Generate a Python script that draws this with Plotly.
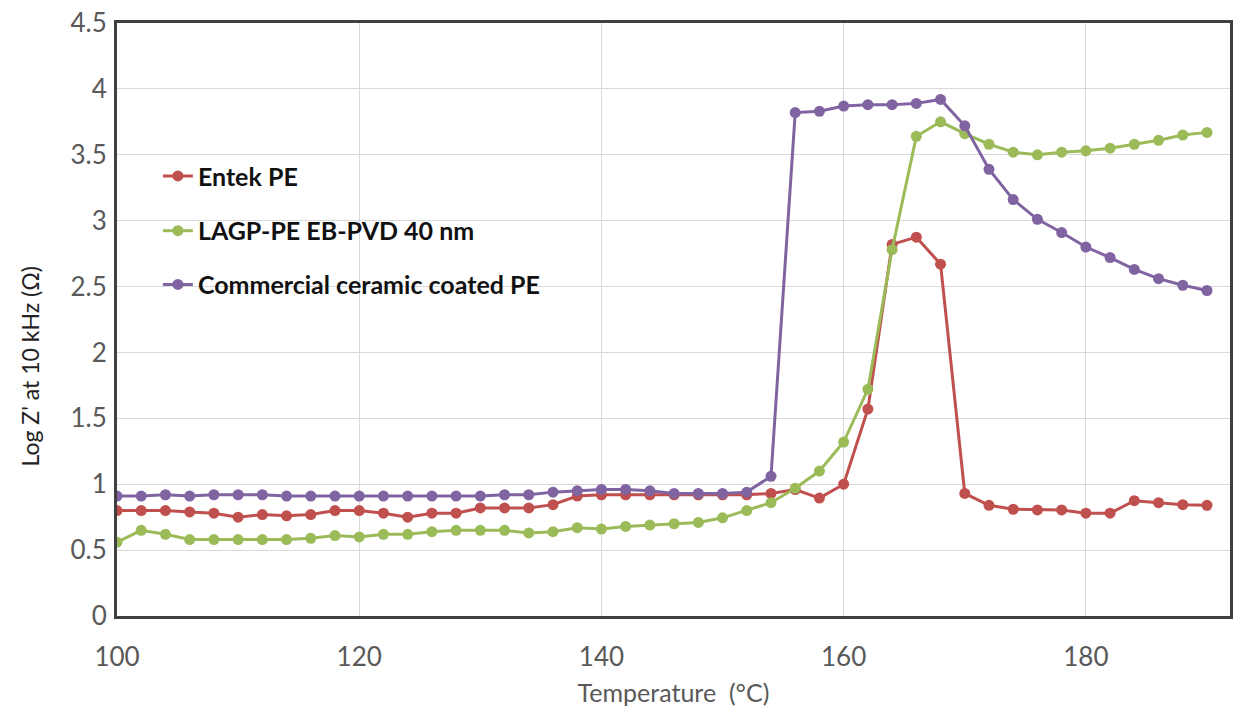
import plotly.graph_objects as go

# Temperature sweep (°C)
temperature = [100, 102, 104, 106, 108, 110, 112, 114, 116, 118,
               120, 122, 124, 126, 128, 130, 132, 134, 136, 138,
               140, 142, 144, 146, 148, 150, 152, 154, 156, 158,
               160, 162, 164, 166, 168, 170, 172, 174, 176, 178,
               180, 182, 184, 186, 188, 190]

# Log Z' at 10 kHz for each separator
entek_pe = [0.80, 0.80, 0.80, 0.79, 0.78, 0.75, 0.77, 0.76, 0.77, 0.80,
            0.80, 0.78, 0.75, 0.78, 0.78, 0.82, 0.82, 0.82, 0.845, 0.91,
            0.92, 0.92, 0.92, 0.92, 0.92, 0.92, 0.92, 0.93, 0.96, 0.895,
            1.00, 1.57, 2.82, 2.875, 2.67, 0.93, 0.84, 0.81, 0.805, 0.805,
            0.78, 0.78, 0.875, 0.86, 0.845, 0.84]

lagp_pe = [0.56, 0.65, 0.62, 0.58, 0.58, 0.58, 0.58, 0.58, 0.59, 0.61,
           0.60, 0.62, 0.62, 0.64, 0.65, 0.65, 0.65, 0.63, 0.64, 0.67,
           0.66, 0.68, 0.69, 0.70, 0.71, 0.745, 0.80, 0.86, 0.97, 1.10,
           1.32, 1.72, 2.78, 3.64, 3.75, 3.66, 3.58, 3.52, 3.50, 3.52,
           3.53, 3.55, 3.58, 3.61, 3.65, 3.67]

ceramic_pe = [0.91, 0.91, 0.92, 0.91, 0.92, 0.92, 0.92, 0.91, 0.91, 0.91,
              0.91, 0.91, 0.91, 0.91, 0.91, 0.91, 0.92, 0.92, 0.94, 0.95,
              0.96, 0.96, 0.95, 0.93, 0.93, 0.93, 0.94, 1.06, 3.82, 3.83,
              3.87, 3.88, 3.88, 3.89, 3.92, 3.72, 3.39, 3.16, 3.01, 2.91,
              2.80, 2.72, 2.63, 2.56, 2.51, 2.47]

series_names = ["Entek PE", "LAGP-PE EB-PVD 40 nm", "Commercial ceramic coated PE"]
series_values = [entek_pe, lagp_pe, ceramic_pe]
series_colors = ["#C0504D", "#9BBB59", "#8064A2"]
legend_ids = ["legend", "legend2", "legend3"]

x_ticks = [100, 120, 140, 160, 180]
y_ticks = [0, 0.5, 1, 1.5, 2, 2.5, 3, 3.5, 4, 4.5]
y_tick_text = ["0", "0.5", "1", "1.5", "2", "2.5", "3", "3.5", "4", "4.5"]

FONT = "Lato, 'Open Sans', sans-serif"
W, H = 1239, 719
ML, MR, MT, MB = 117, 6, 20, 103
plot_w = W - ML - MR
plot_h = H - MT - MB


def px_to_paper_x(px):
    return (px - ML) / plot_w


def px_to_paper_y(py):
    return (H - MB - py) / plot_h


fig = go.Figure()
for name, vals, color, lg in zip(series_names, series_values, series_colors, legend_ids):
    fig.add_trace(go.Scatter(
        x=temperature, y=vals, name=name, mode="lines+markers",
        line=dict(color=color, width=3),
        marker=dict(color=color, size=11, symbol="circle"),
        legend=lg,
    ))

legend_rows_px = [174, 229, 283]
legend_common = dict(
    xref="paper", yref="paper", xanchor="left", yanchor="middle",
    bgcolor="rgba(0,0,0,0)", borderwidth=0,
    font=dict(family=FONT, size=25, color="#111111", weight="bold"),
)
layout_legends = {}
for lg, row in zip(legend_ids, legend_rows_px):
    layout_legends[lg] = dict(x=px_to_paper_x(158), y=px_to_paper_y(row), **legend_common)

fig.update_layout(
    width=W, height=H,
    margin=dict(l=ML, r=MR, t=MT, b=MB, pad=0),
    paper_bgcolor="white", plot_bgcolor="white",
    font=dict(family=FONT, color="#595959"),
    showlegend=True,
    **layout_legends,
)

fig.update_xaxes(
    range=[100, 191.9], tickvals=x_ticks,
    showgrid=True, gridcolor="#D9D9D9", gridwidth=1,
    showline=True, linecolor="#404040", linewidth=3, mirror=True,
    zeroline=False, ticks="", ticklabelstandoff=16,
    tickfont=dict(family=FONT, size=26, color="#595959"),
    title=dict(text="Temperature  (°C)", standoff=14,
               font=dict(family=FONT, size=25, color="#595959")),
)

fig.update_yaxes(
    range=[0, 4.5], tickvals=y_ticks, ticktext=y_tick_text,
    showgrid=True, gridcolor="#D9D9D9", gridwidth=1,
    showline=True, linecolor="#404040", linewidth=3, mirror=True,
    zeroline=False, ticks="", ticklabelstandoff=2,
    tickfont=dict(family=FONT, size=26, color="#595959"),
)

# Y-axis title placed explicitly in pixel space
fig.add_annotation(
    text="Log Z' at 10 kHz (Ω)", textangle=-90,
    xref="paper", yref="paper",
    x=px_to_paper_x(30), y=px_to_paper_y(365),
    xanchor="center", yanchor="middle", showarrow=False,
    font=dict(family=FONT, size=23, color="#222222"),
)

fig.write_html("out.html")
